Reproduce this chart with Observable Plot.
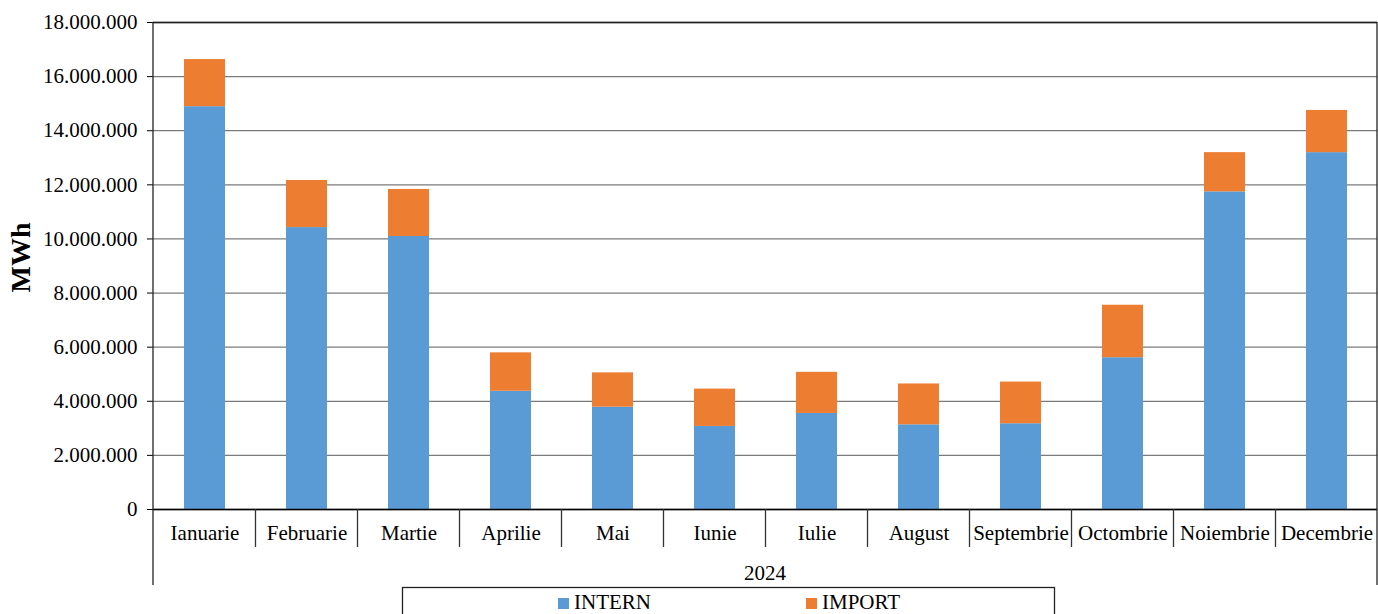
<!DOCTYPE html>
<html>
<head>
<meta charset="utf-8">
<script src="https://cdn.jsdelivr.net/npm/d3@7"></script>
<script src="https://cdn.jsdelivr.net/npm/@observablehq/plot@0.6"></script>
<style>
  html, body { margin: 0; padding: 0; background: #fff; }
  svg { display: block; }
</style>
</head>
<body>
<div id="chart"></div>
<script>
const months = ["Ianuarie","Februarie","Martie","Aprilie","Mai","Iunie","Iulie","August","Septembrie","Octombrie","Noiembrie","Decembrie"];
const intern = [14890000, 10420000, 10090000, 4370000, 3780000, 3070000, 3550000, 3130000, 3170000, 5610000, 11740000, 13190000];
const importV = [1740000, 1740000, 1740000, 1420000, 1270000, 1380000, 1520000, 1510000, 1540000, 1940000, 1450000, 1560000];
const seriesNames = ["INTERN", "IMPORT"];
const seriesColors = ["#5B9BD5", "#ED7D31"];
const yTicks = [0, 2e6, 4e6, 6e6, 8e6, 10e6, 12e6, 14e6, 16e6, 18e6];
const yearLabel = "2024";
const yLabel = "MWh";

const rows = [];
months.forEach((m, i) => {
  rows.push({month: m, series: seriesNames[0], value: intern[i]});
});
months.forEach((m, i) => {
  rows.push({month: m, series: seriesNames[1], value: importV[i]});
});

const fmt = v => v === 0 ? "0" : d3.format(",")(v).replace(/,/g, ".");
const FONT = "'Liberation Serif', 'Times New Roman', serif";

const W = 1378, H = 614;
const chart = Plot.plot({
  width: W,
  height: H,
  marginLeft: 153,
  marginRight: 1,
  marginTop: 22,
  marginBottom: 105,
  style: {fontFamily: FONT, fontSize: "21px", color: "#000", background: "#fff"},
  x: {domain: months, paddingInner: 0.6, paddingOuter: 0.3, label: null},
  y: {domain: [0, 18e6], label: null},
  color: {domain: seriesNames, range: seriesColors},
  marks: [
    Plot.gridY(yTicks, {stroke: "#7a7a7a", strokeOpacity: 1, strokeWidth: 1.3}),
    Plot.barY(rows, {x: "month", y: "value", fill: "series", order: seriesNames}),
    Plot.ruleY([0], {stroke: "#000", strokeWidth: 1.3}),
    Plot.ruleY([18e6], {stroke: "#222", strokeWidth: 1.3}),
    Plot.axisY({ticks: yTicks, tickFormat: fmt, tickSize: 6, tickPadding: 10, fontSize: 21, label: null}),
    Plot.axisX({tickSize: 0, tickPadding: 16, fontSize: 21, label: null})
  ]
});

document.getElementById("chart").appendChild(chart);

// Decorations drawn from the scales
const svg = d3.select(chart);
const xs = chart.scale("x");
const ys = chart.scale("y");
const y0 = ys.apply(0);
const yTop = ys.apply(18e6);
const half = (xs.step - xs.bandwidth) / 2;
const left = xs.range[0];
const right = xs.range[1];
const g = svg.append("g").attr("text-anchor", "start");

// category separators
months.forEach((m, i) => {
  if (i === 0) return;
  const bx = xs.apply(m) - half;
  g.append("line").attr("x1", bx).attr("x2", bx).attr("y1", y0).attr("y2", y0 + 38)
    .attr("stroke", "#333").attr("stroke-width", 1.3);
});
// outer verticals
[left, right].forEach(xx => {
  g.append("line").attr("x1", xx).attr("x2", xx).attr("y1", yTop).attr("y2", y0 + 76)
    .attr("stroke", "#222").attr("stroke-width", 1.3);
});

// year label
g.append("text").attr("x", (left + right) / 2).attr("y", y0 + 71)
  .attr("text-anchor", "middle").attr("font-family", FONT).attr("font-size", 21)
  .attr("fill", "#000").text(yearLabel);

// y label
g.append("text").attr("transform", `translate(30, ${(yTop + y0) / 2 - 8}) rotate(-90)`)
  .attr("text-anchor", "middle").attr("font-family", FONT).attr("font-size", 28)
  .attr("font-weight", "bold").attr("fill", "#000").text(yLabel);

// legend box
g.append("rect").attr("x", 402.5).attr("y", 587.5).attr("width", 652).attr("height", 60)
  .attr("fill", "none").attr("stroke", "#222").attr("stroke-width", 1.3);
const legX = [558, 806];
seriesNames.forEach((s, i) => {
  g.append("rect").attr("x", legX[i]).attr("y", 598).attr("width", 11).attr("height", 11)
    .attr("fill", seriesColors[i]);
  g.append("text").attr("x", legX[i] + 16).attr("y", 609).attr("text-anchor", "start")
    .attr("font-family", FONT).attr("font-size", 21).attr("fill", "#000").text(s);
});
</script>
</body>
</html>
